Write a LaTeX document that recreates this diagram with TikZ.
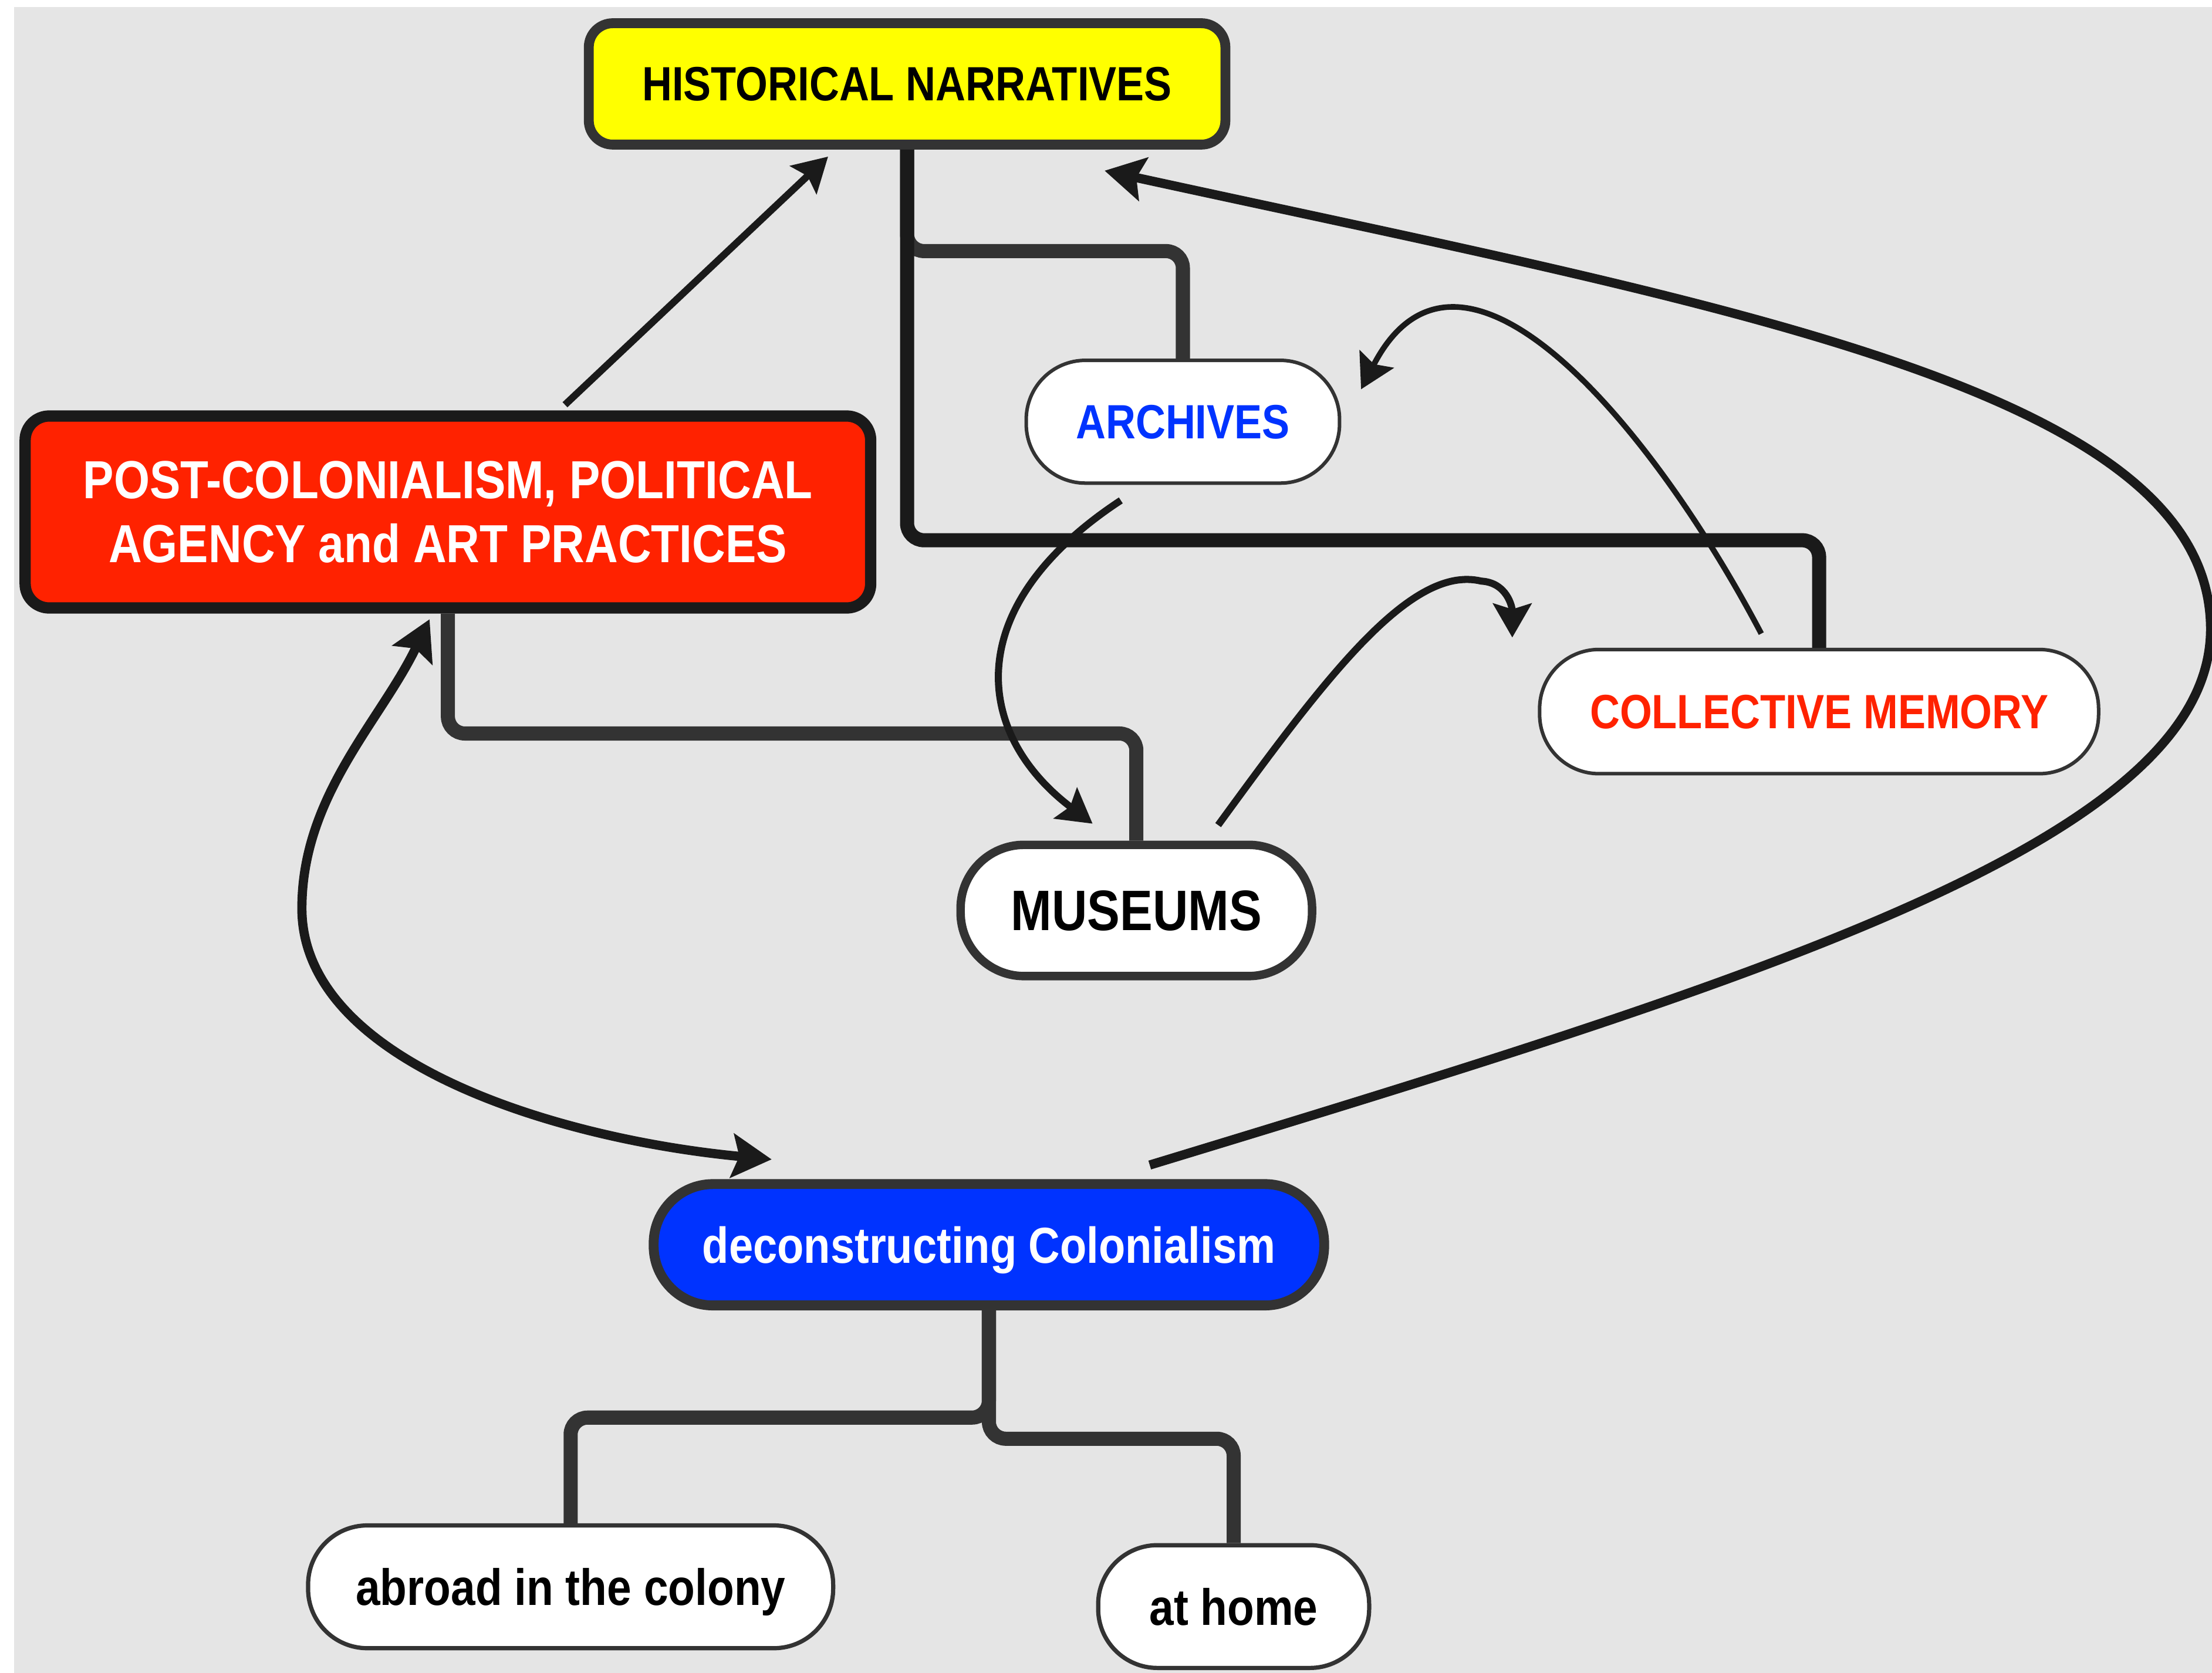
\documentclass[tikz,border=0pt]{standalone}
\usepackage{fontspec}
\newfontfamily\mapfont{Liberation Sans}[FakeStretch=0.86]
\usetikzlibrary{calc, arrows.meta}

\definecolor{bggray}{HTML}{E5E5E5}
\definecolor{linegray}{HTML}{333333}
\definecolor{linedark}{HTML}{1A1A1A}
\definecolor{hnyellow}{HTML}{FFFF00}
\definecolor{pcred}{HTML}{FF2200}
\definecolor{dcblue}{HTML}{0033FF}

\tikzset{
    box/.style={draw=linegray, align=center, inner sep=0pt,
        font=\mapfont\bfseries\fontsize{9.7}{11.6}\selectfont},
    pill/.style={box, fill=white, rounded corners=0.42cm, line width=0.025cm, text depth=0pt},
    tree/.style={draw=linegray, line width=0.1cm, rounded corners=0.12cm},
    link/.style={draw=linedark, line width=0.05cm,
        -{Stealth[length=0.24cm, width=0.27cm, inset=0.04cm]}},
    biglink/.style={link, line width=0.065cm,
        -{Stealth[length=0.28cm, width=0.31cm, inset=0.05cm]}},
    both/.style={biglink,
        {Stealth[length=0.28cm, width=0.31cm, inset=0.05cm]}-{Stealth[length=0.28cm, width=0.31cm, inset=0.05cm]}}
}

\begin{document}
\begin{tikzpicture}[x=0.01cm, y=-0.01cm]
    \fill[white] (0,0) rectangle (1568,1186);
    \fill[bggray] (10,5) rectangle (1568,1186);
    \useasboundingbox (0,0) rectangle (1568,1186);

    \node[box, fill=hnyellow, line width=0.07cm, rounded corners=0.17cm,
        minimum width=4.51cm, minimum height=0.86cm] (hn) at (643,59.5) {HISTORICAL NARRATIVES};
    \node[box, fill=pcred, draw=linedark, text=white, line width=0.08cm, rounded corners=0.17cm,
        minimum width=5.99cm, minimum height=1.36cm,
        font=\mapfont\bfseries\fontsize{10.8}{12.8}\selectfont] (pc) at (317.5,363)
        {POST-COLONIALISM, POLITICAL\\AGENCY and ART PRACTICES};
    \node[pill, text=dcblue, minimum width=2.22cm, minimum height=0.87cm] (arch) at (838.5,299) {ARCHIVES};
    \node[pill, text=pcred, minimum width=3.96cm, minimum height=0.88cm] (cm) at (1289.5,504.5) {COLLECTIVE MEMORY};
    \node[pill, line width=0.06cm, rounded corners=0.45cm, minimum width=2.49cm, minimum height=0.93cm,
        font=\mapfont\bfseries\fontsize{11.5}{13.8}\selectfont] (mus) at (805.5,645.5) {MUSEUMS};
    \node[pill, fill=dcblue, text=white, line width=0.07cm, minimum width=4.75cm, minimum height=0.86cm,
        font=\mapfont\bfseries\fontsize{10.2}{12.2}\selectfont] (dec) at (701,882.5) {deconstructing Colonialism};
    \node[pill, line width=0.03cm, minimum width=3.72cm, minimum height=0.87cm,
        font=\mapfont\bfseries\fontsize{10.3}{12.4}\selectfont] (abr) at (404.5,1125) {abroad in the colony};
    \node[pill, line width=0.03cm, minimum width=1.92cm, minimum height=0.87cm,
        font=\mapfont\bfseries\fontsize{10.3}{12.4}\selectfont] (home) at (874.5,1139) {at home};

    \draw[tree] (hn.south) -- ++(0,72) -| (arch.north);
    \draw[tree, draw=linedark] (hn.south) -- ++(0,277) -| (cm.north);
    \draw[tree] (pc.south) -- ++(0,85) -| (mus.north);
    \draw[tree] (dec.south) -- ++(0,76) -| (abr.north);
    \draw[tree] (dec.south) -- ++(0,91) -| (home.north);

    \draw[link] ($(pc.north)+(83,-4)$) -- ($(hn.south)+(-56,5)$);
    \draw[biglink] ($(dec.north)+(114,-10)$) .. controls (1245,695) and (1567,596) .. (1567,446)
        .. controls (1567,276) and (1223,217) .. ($(hn.south)+(140,15)$);
    \draw[both] ($(pc.south)+(-13,4)$) .. controls (270,511) and (214,564) .. (214,644)
        .. controls (214,754) and (398,808) .. ($(dec.north)+(-154,-14)$);
    \draw[link, line width=0.04cm] ($(cm.north)+(-41,-10)$) .. controls (1170,300) and (1035,140) .. ($(arch.east)+(14,-23)$);
    \draw[link] ($(arch.south)+(-44,11)$) .. controls (680,430) and (690,520) .. ($(mus.north)+(-31,-12)$);
    \coordinate (loose) at (1072,452);
    \draw[link] ($(mus.north)+(58,-11)$) .. controls (940,480) and (1000,400) .. (1050,412)
        .. controls (1068,413) and (1072,430) .. (loose);
\end{tikzpicture}
\end{document}
